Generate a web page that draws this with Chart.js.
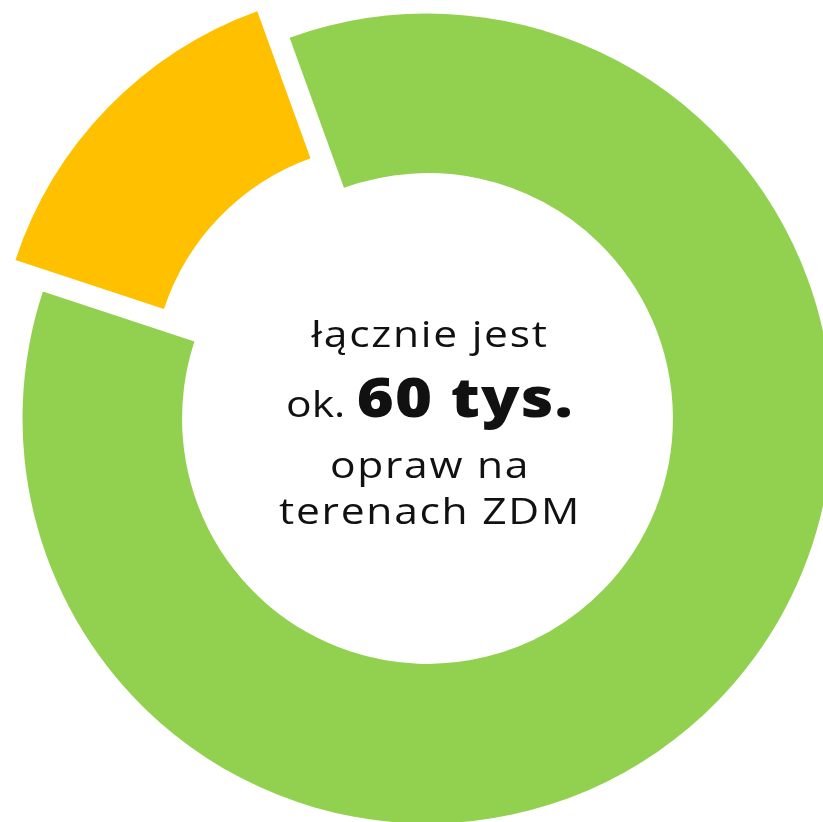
<!DOCTYPE html>
<html>
<head>
<meta charset="utf-8">
<script src="https://cdn.jsdelivr.net/npm/chart.js@4/dist/chart.umd.min.js"></script>
<style>
  html, body { margin: 0; padding: 0; background: #ffffff; overflow: hidden; }
  #wrap { position: relative; width: 823px; height: 822px; overflow: hidden; }
  #c { position: absolute; left: 0; top: 0; }
  .t { position: absolute; left: 0; width: 860px; text-align: center; font-family: 'Open Sans', sans-serif;
       color: #111; white-space: nowrap; line-height: 1; transform: scaleX(1.15); transform-origin: 50% 50%; }
  .reg { font-size: 37px; font-weight: 400; letter-spacing: 1.5px; }
  .big { font-size: 55px; font-weight: 800; letter-spacing: 1px; }
</style>
</head>
<body>
<div id="wrap">
  <canvas id="c" width="823" height="822"></canvas>
  <div class="t reg" id="l1" style="top:314px">łącznie jest</div>
  <div class="t" id="l2" style="top:368px;font-size:55px"><span class="reg" style="letter-spacing:0;margin-right:10px">ok.</span><span class="big">60 tys.</span></div>
  <div class="t reg" id="l3" style="top:445px">opraw na</div>
  <div class="t reg" id="l4" style="top:491px">terenach ZDM</div>
</div>
<script>
// ---- data ----
const categories = ['Pozostałe oprawy', 'Wyróżnione oprawy'];
const values = [85.6, 14.4];           // share of luminaires, %
const sliceColors = ['#92D050', '#FFC000'];
const explodeDistance = [0, 49];       // outward shift of a slice, px
const explodeScale = [1, 0.98];        // radius scale of the shifted slice

const explodePlugin = {
  id: 'explode',
  afterDatasetUpdate(chart, args) {
    const meta = args.meta;
    meta.data.forEach((arc, i) => {
      const d = explodeDistance[i] || 0;
      const s = explodeScale[i] || 1;
      if (!d && s === 1) return;
      const mid = (arc.startAngle + arc.endAngle) / 2;
      arc.x += Math.cos(mid) * d;
      arc.y += Math.sin(mid) * d;
      arc.outerRadius *= s;
      arc.innerRadius *= s;
    });
  }
};

new Chart(document.getElementById('c'), {
  type: 'doughnut',
  data: {
    labels: categories,
    datasets: [{
      data: values,
      backgroundColor: sliceColors,
      borderWidth: 0,
      hoverOffset: 0,
      clip: false
    }]
  },
  options: {
    responsive: false,
    animation: false,
    rotation: -19.9,
    radius: 405,
    cutout: '60.6%',
    layout: { padding: { left: 32, top: 15, right: 0, bottom: 0 } },
    plugins: { legend: { display: false }, tooltip: { enabled: false } },
    events: []
  },
  plugins: [explodePlugin]
});
</script>
</body>
</html>
